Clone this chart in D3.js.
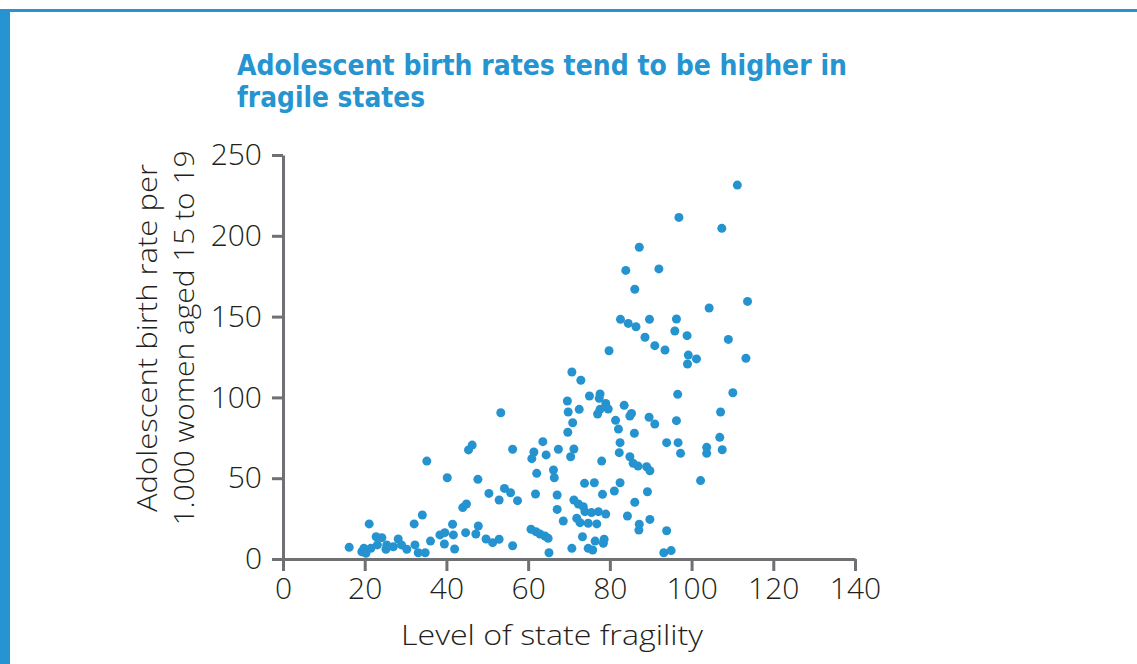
<!DOCTYPE html>
<html>
<head>
<meta charset="utf-8">
<script src="https://cdn.jsdelivr.net/npm/d3@7"></script>
<style>
  html, body { margin: 0; padding: 0; background: #ffffff; }
  svg { display: block; }
</style>
</head>
<body>
<svg id="chart" width="1137" height="664"></svg>
<script>
// ---- Data ----
const titleLines = ["Adolescent birth rates tend to be higher in", "fragile states"];
const xAxisTitle = "Level of state fragility";
const yAxisTitleLines = ["Adolescent birth rate per", "1.000 women aged 15 to 19"];
const xTicks = [0, 20, 40, 60, 80, 100, 120, 140];
const yTicks = [0, 50, 100, 150, 200, 250];

// fragility level (x) for each country
const fragility = [
  16.2, 19.3, 19.8, 20.3, 21.1, 21.5, 22.8, 23.1, 24.2, 25.2, 25.4, 27.0, 28.2, 29.0, 30.3,
  32.1, 32.3, 33.1, 34.1, 34.8, 35.2, 36.1, 38.4, 39.5, 39.6, 40.2, 41.5, 41.7, 42.0, 44.0,
  44.9, 44.7, 45.4, 46.3, 47.2, 47.7, 47.8,
  88.6, 91.0, 79.8, 70.7, 72.9, 75.0, 77.6, 77.4, 69.6, 79.0, 83.5, 69.8, 72.5, 77.6, 79.6,
  77.0, 85.3, 84.9, 53.3, 70.9, 81.4, 82.1, 89.6, 91.0, 69.7, 86.0, 63.6, 82.5, 56.2, 61.4,
  60.9, 64.4, 67.4, 71.2, 70.4, 82.3, 78.0, 84.9, 85.7, 86.9, 89.0, 89.8, 62.1, 66.2, 66.4,
  73.8, 76.2, 82.5, 81.1, 78.2, 89.2, 50.4, 54.2, 55.7, 52.9, 57.4, 61.8, 67.1, 71.2, 72.3,
  73.5, 73.9, 75.5, 77.2, 79.0, 86.1, 67.1, 84.3, 89.8, 71.9, 72.7, 74.7, 76.8, 68.6, 87.2,
  87.1, 60.7, 61.9, 62.9, 64.1, 64.9, 73.3, 76.4, 78.6, 78.4, 74.7, 75.8, 70.7, 65.1, 56.2,
  52.9, 51.3, 49.7,
  93.5, 99.2, 101.2, 99.0, 113.3, 96.6, 110.1, 96.3, 107.1, 93.9, 96.7, 97.3, 103.7, 103.7,
  106.9, 107.5, 102.2, 93.9, 93.2, 95.0,
  111.2, 96.9, 107.4, 87.2, 83.9, 92.0, 86.1, 113.7, 104.3, 82.6, 84.5, 86.4, 89.7, 96.3,
  95.9, 98.9, 109.0
];
// adolescent birth rate per 1,000 women aged 15-19 (y)
const birthRate = [
  7.2, 4.5, 6.6, 3.5, 21.7, 6.6, 13.8, 8.7, 13.2, 6.0, 8.7, 7.6, 12.4, 8.7, 6.0,
  21.7, 8.7, 3.9, 27.2, 3.9, 60.6, 11.1, 14.9, 9.3, 16.3, 50.3, 21.5, 14.9, 6.2, 31.8,
  34.0, 16.3, 67.5, 70.5, 15.5, 49.3, 20.4,
  137.2, 132.0, 128.9, 115.7, 110.6, 100.9, 102.1, 99.4, 97.8, 96.3, 95.1, 91.0, 92.6, 92.6, 92.8,
  89.7, 90.1, 88.5, 90.5, 84.3, 85.8, 80.4, 87.7, 83.5, 78.4, 77.8, 72.6, 72.0, 67.9, 66.2,
  62.1, 64.4, 67.9, 68.1, 63.3, 65.8, 60.6, 63.3, 59.2, 57.5, 57.1, 54.6, 53.0, 55.1, 50.3,
  46.8, 47.2, 47.2, 42.1, 40.0, 41.6, 40.6, 43.7, 41.0, 36.5, 36.1, 40.2, 39.6, 36.5, 34.0,
  32.4, 29.3, 28.7, 29.3, 27.8, 35.1, 30.7, 26.6, 24.5, 25.2, 22.5, 22.1, 21.7, 23.5, 21.5,
  17.9, 18.4, 16.9, 15.5, 14.2, 12.8, 13.8, 11.1, 12.2, 9.7, 6.6, 5.6, 6.6, 3.9, 8.2,
  12.2, 10.1, 12.4,
  129.3, 126.2, 123.8, 120.7, 124.2, 101.9, 102.9, 85.6, 91.0, 72.0, 72.0, 65.4, 69.1, 65.4,
  75.3, 67.6, 48.5, 17.5, 3.9, 5.2,
  231.4, 211.4, 204.6, 192.9, 178.6, 179.5, 166.9, 159.4, 155.3, 148.3, 145.8, 143.7, 148.3, 148.5,
  141.1, 138.2, 135.9
];

// ---- Styles ----
const BLUE = "#2594d0";
const DOT = "#2493cf";
const AXIS = "#6f7073";
const TEXT = "#231f20";
const FONT = "'Open Sans', 'Noto Sans', sans-serif";

const svg = d3.select("#chart");

// frame
svg.append("rect").attr("x", 0).attr("y", 9).attr("width", 1137).attr("height", 3).attr("fill", BLUE);
svg.append("rect").attr("x", 0).attr("y", 9).attr("width", 10).attr("height", 664 - 9).attr("fill", BLUE);

// title
const titleLens = [610, 188];
svg.append("g").selectAll("text").data(titleLines).join("text")
  .attr("x", 237)
  .attr("y", (d, i) => 75 + i * 32)
  .attr("textLength", (d, i) => titleLens[i])
  .attr("lengthAdjust", "spacingAndGlyphs")
  .attr("font-family", "'Liberation Sans Narrow', 'DejaVu Sans Condensed', 'Noto Sans', sans-serif")
  .attr("font-weight", "bold")
  .attr("font-size", 29)
  .attr("fill", BLUE)
  .text(d => d);

// scales
const x = d3.scaleLinear().domain([0, 140]).range([283, 855]);
const y = d3.scaleLinear().domain([0, 250]).range([559, 155]);

// x axis
const gx = svg.append("g").attr("transform", `translate(0,${y(0)})`)
  .call(d3.axisBottom(x).tickValues(xTicks).tickSize(12).tickSizeOuter(0).tickPadding(7));
// y axis
const gy = svg.append("g").attr("transform", `translate(${x(0)},0)`)
  .call(d3.axisLeft(y).tickValues(yTicks).tickSize(11).tickSizeOuter(0).tickPadding(10));

[gx, gy].forEach(g => {
  g.select(".domain").attr("stroke", AXIS).attr("stroke-width", 3);
  g.selectAll(".tick line").attr("stroke", AXIS).attr("stroke-width", 3);
  g.selectAll(".tick text")
    .attr("fill", TEXT)
    .attr("font-family", FONT)
    .attr("font-weight", 300)
    .attr("font-size", 30);
});

// axis titles
svg.append("text")
  .attr("x", 552).attr("y", 645)
  .attr("text-anchor", "middle")
  .attr("textLength", 302)
  .attr("lengthAdjust", "spacingAndGlyphs")
  .attr("font-family", FONT).attr("font-weight", 300).attr("font-size", 28)
  .attr("fill", TEXT)
  .text(xAxisTitle);

const yTitleLens = [348, 375];
svg.append("g").attr("transform", "translate(0,338) rotate(-90)")
  .selectAll("text").data(yAxisTitleLines).join("text")
  .attr("x", 0)
  .attr("y", (d, i) => 157 + i * 37)
  .attr("text-anchor", "middle")
  .attr("textLength", (d, i) => yTitleLens[i])
  .attr("lengthAdjust", "spacingAndGlyphs")
  .attr("font-family", FONT).attr("font-weight", 300).attr("font-size", 28)
  .attr("fill", TEXT)
  .text(d => d);

// points
const pts = fragility.map((v, i) => ({ fx: v, br: birthRate[i] }));
svg.append("g").selectAll("circle").data(pts).join("circle")
  .attr("cx", d => x(d.fx))
  .attr("cy", d => y(d.br))
  .attr("r", 4.5)
  .attr("fill", DOT);
</script>
</body>
</html>
